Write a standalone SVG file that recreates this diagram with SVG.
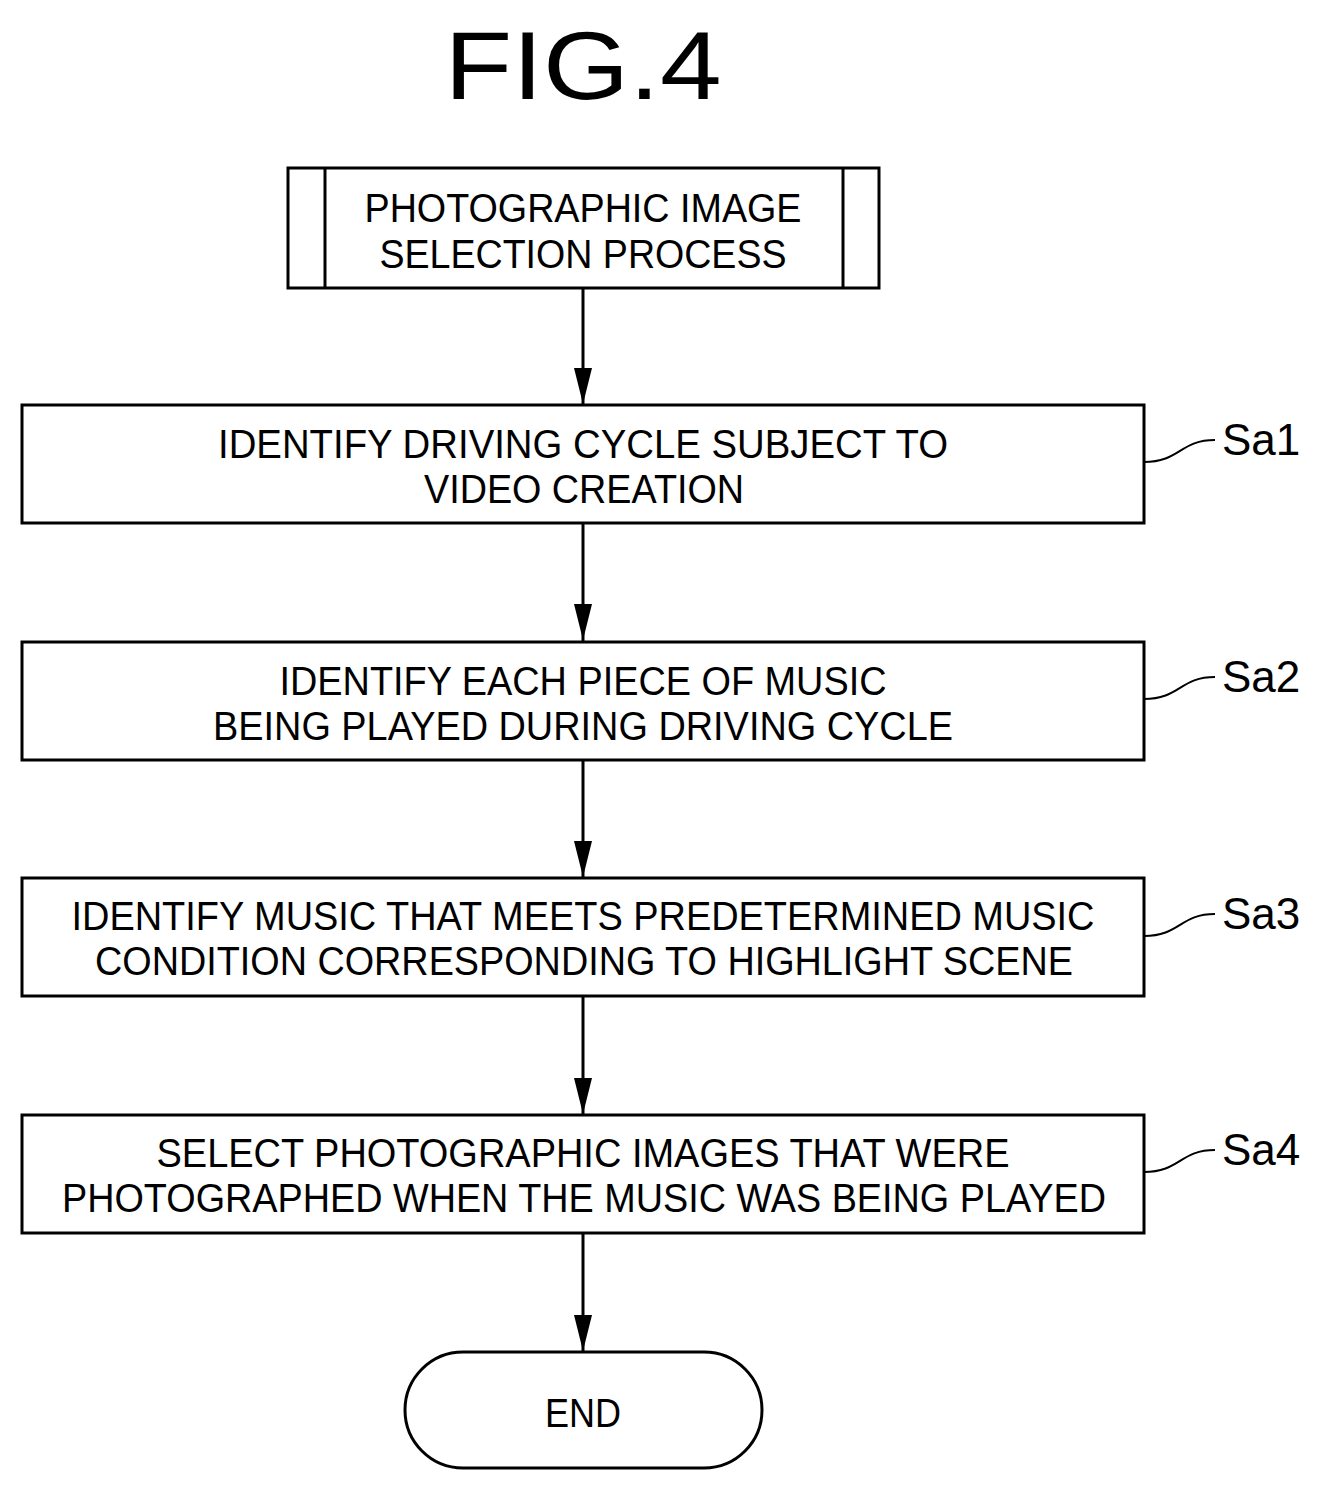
<svg xmlns="http://www.w3.org/2000/svg" width="1330" height="1491" viewBox="0 0 1330 1491">
<style>
.b{fill:#fff;stroke:#000;stroke-width:3}
.t{font-family:"Liberation Sans",Arial,sans-serif;font-size:40px;text-anchor:middle;fill:#000}
.h{font-family:"Liberation Sans",Arial,sans-serif;font-size:96px;text-anchor:middle;fill:#000}
.l{font-family:"Liberation Sans",Arial,sans-serif;font-size:44px;fill:#000}
.c{fill:none;stroke:#000;stroke-width:3}
.s{fill:none;stroke:#000;stroke-width:2}
</style>
<rect width="1330" height="1491" fill="#fff"/>
<text x="583" y="99" class="h" textLength="277" lengthAdjust="spacingAndGlyphs">FIG.4</text>
<g id="connectors">
<line x1="583" y1="288" x2="583" y2="405" class="c"/>
<path d="M574,368 L592,368 L583,404 Z"/>
<line x1="583" y1="523" x2="583" y2="641" class="c"/>
<path d="M574,604 L592,604 L583,640 Z"/>
<line x1="583" y1="760" x2="583" y2="878" class="c"/>
<path d="M574,841 L592,841 L583,877 Z"/>
<line x1="583" y1="996" x2="583" y2="1115" class="c"/>
<path d="M574,1078 L592,1078 L583,1114 Z"/>
<line x1="583" y1="1233" x2="583" y2="1352" class="c"/>
<path d="M574,1315 L592,1315 L583,1351 Z"/>
<path d="M1144,462 C1180,462 1180,440 1215,440" class="s"/>
<path d="M1144,699 C1180,699 1180,677 1215,677" class="s"/>
<path d="M1144,936 C1180,936 1180,914 1215,914" class="s"/>
<path d="M1144,1172 C1180,1172 1180,1150 1215,1150" class="s"/>
</g>
<g id="start">
<rect x="288" y="168" width="591" height="120" class="b"/>
<line x1="325" y1="168" x2="325" y2="288" class="c"/>
<line x1="843" y1="168" x2="843" y2="288" class="c"/>
<text x="583" y="222" class="t" textLength="437" lengthAdjust="spacingAndGlyphs">PHOTOGRAPHIC IMAGE</text>
<text x="583" y="268" class="t" textLength="407" lengthAdjust="spacingAndGlyphs">SELECTION PROCESS</text>
</g>
<g id="sa1">
<rect x="22" y="405" width="1122" height="118" class="b"/>
<text x="583" y="458" class="t" textLength="730" lengthAdjust="spacingAndGlyphs">IDENTIFY DRIVING CYCLE SUBJECT TO</text>
<text x="584" y="503" class="t" textLength="320" lengthAdjust="spacingAndGlyphs">VIDEO CREATION</text>
<text x="1222" y="455" class="l">Sa1</text>
</g>
<g id="sa2">
<rect x="22" y="642" width="1122" height="118" class="b"/>
<text x="583" y="695" class="t" textLength="607" lengthAdjust="spacingAndGlyphs">IDENTIFY EACH PIECE OF MUSIC</text>
<text x="583" y="740" class="t" textLength="740" lengthAdjust="spacingAndGlyphs">BEING PLAYED DURING DRIVING CYCLE</text>
<text x="1222" y="692" class="l">Sa2</text>
</g>
<g id="sa3">
<rect x="22" y="878" width="1122" height="118" class="b"/>
<text x="583" y="930" class="t" textLength="1023" lengthAdjust="spacingAndGlyphs">IDENTIFY MUSIC THAT MEETS PREDETERMINED MUSIC</text>
<text x="584" y="975" class="t" textLength="978" lengthAdjust="spacingAndGlyphs">CONDITION CORRESPONDING TO HIGHLIGHT SCENE</text>
<text x="1222" y="929" class="l">Sa3</text>
</g>
<g id="sa4">
<rect x="22" y="1115" width="1122" height="118" class="b"/>
<text x="583" y="1167" class="t" textLength="853" lengthAdjust="spacingAndGlyphs">SELECT PHOTOGRAPHIC IMAGES THAT WERE</text>
<text x="584" y="1212" class="t" textLength="1044" lengthAdjust="spacingAndGlyphs">PHOTOGRAPHED WHEN THE MUSIC WAS BEING PLAYED</text>
<text x="1222" y="1165" class="l">Sa4</text>
</g>
<g id="end">
<rect x="405" y="1352" width="357" height="116" rx="58" class="b"/>
<text x="583" y="1427" class="t" textLength="76" lengthAdjust="spacingAndGlyphs">END</text>
</g>
</svg>
